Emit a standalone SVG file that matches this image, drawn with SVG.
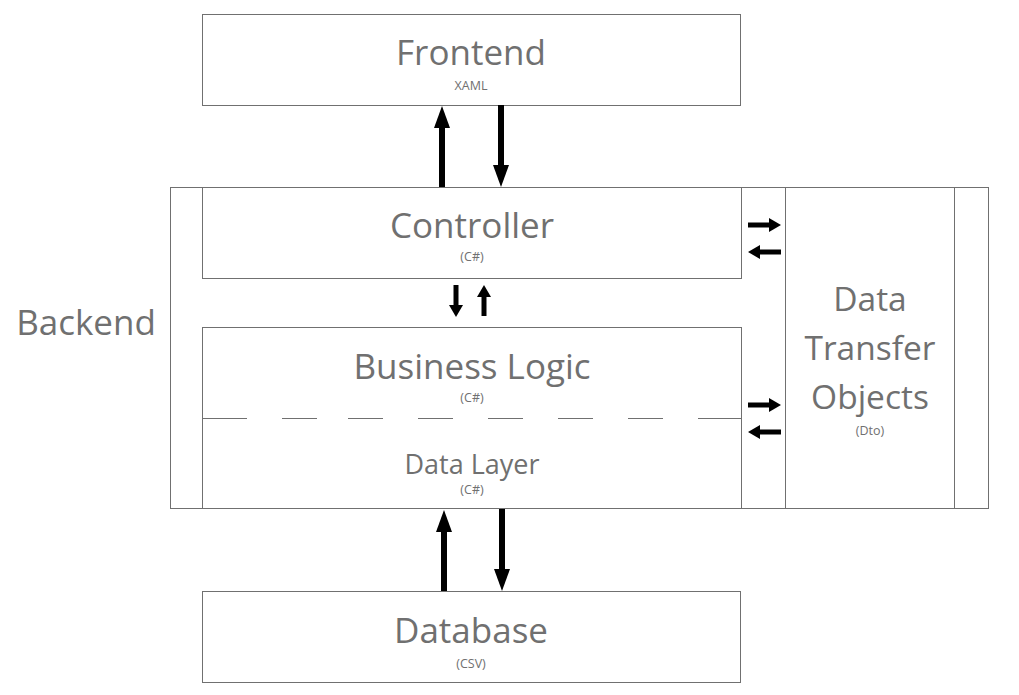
<svg xmlns="http://www.w3.org/2000/svg" width="1019" height="695" viewBox="0 0 1019 695">
  <defs>
    <style>
      .box { fill: #ffffff; stroke: #707070; stroke-width: 1; }
      .ln { fill: none; stroke: #707070; stroke-width: 1; }
      .t { font-family: "Open Sans", "Liberation Sans", sans-serif; fill: #707070; text-anchor: middle; }
      .big { font-size: 35px; }
      .dto { font-size: 33.5px; }
      .mid { font-size: 27px; }
      .sm { font-size: 12.5px; }
      .arrL { fill: none; stroke: #000000; stroke-width: 6; }
      .arrS { fill: none; stroke: #000000; stroke-width: 5; }
    </style>
    <marker id="headL" markerUnits="userSpaceOnUse" markerWidth="24" markerHeight="18" refX="0" refY="8" orient="auto" viewBox="0 0 24 16">
      <path d="M0 0 L22 8 L0 16 Z" fill="#000000"/>
    </marker>
    <marker id="headS" markerUnits="userSpaceOnUse" markerWidth="13" markerHeight="16" refX="0" refY="7" orient="auto" viewBox="0 0 13 14">
      <path d="M0 0 L12 7 L0 14 Z" fill="#000000"/>
    </marker>
  </defs>

  <rect width="1019" height="695" fill="#ffffff"/>

  <g id="backend">
    <rect class="box" x="170.5" y="187.5" width="818" height="321"/>
    <text class="t big" x="86" y="335">Backend</text>
  </g>

  <g id="frontend">
    <rect class="box" x="202.5" y="14.5" width="538" height="91"/>
    <text class="t big" x="471" y="65">Frontend</text>
    <text class="t sm" x="471" y="90">XAML</text>
  </g>

  <g id="controller">
    <rect class="box" x="202.5" y="187.5" width="539" height="91"/>
    <text class="t big" x="472" y="238">Controller</text>
    <text class="t sm" x="472" y="261">(C#)</text>
  </g>

  <g id="business-logic">
    <rect class="box" x="202.5" y="327.5" width="539" height="181"/>
    <text class="t big" x="472" y="379">Business Logic</text>
    <text class="t sm" x="472" y="402">(C#)</text>
    <path class="ln" d="M202 418.5 H247 M282 418.5 H317 M348 418.5 H383 M418 418.5 H453 M488 418.5 H523 M558 418.5 H593 M628 418.5 H663 M698 418.5 H741"/>
  </g>

  <g id="data-layer">
    <text class="t mid" x="472" y="474">Data Layer</text>
    <text class="t sm" x="472" y="494">(C#)</text>
  </g>

  <g id="dto">
    <rect class="box" x="785.5" y="187.5" width="169" height="321"/>
    <text class="t dto" x="870" y="311">Data</text>
    <text class="t dto" x="870" y="360">Transfer</text>
    <text class="t dto" x="870" y="409">Objects</text>
    <text class="t sm" x="870" y="435">(Dto)</text>
  </g>

  <g id="database">
    <rect class="box" x="202.5" y="591.5" width="538" height="91"/>
    <text class="t big" x="471" y="643">Database</text>
    <text class="t sm" x="471" y="668">(CSV)</text>
  </g>

  <g id="connectors">
    <line class="arrL" x1="442" y1="187" x2="442" y2="128" marker-end="url(#headL)"/>
    <line class="arrL" x1="501" y1="105" x2="501" y2="165" marker-end="url(#headL)"/>
    <line class="arrS" x1="456" y1="285" x2="456" y2="305" marker-end="url(#headS)"/>
    <line class="arrS" x1="484" y1="316" x2="484" y2="297" marker-end="url(#headS)"/>
    <line class="arrS" x1="748" y1="225" x2="769" y2="225" marker-end="url(#headS)"/>
    <line class="arrS" x1="781" y1="252" x2="760" y2="252" marker-end="url(#headS)"/>
    <line class="arrS" x1="748" y1="405" x2="769" y2="405" marker-end="url(#headS)"/>
    <line class="arrS" x1="781" y1="432" x2="760" y2="432" marker-end="url(#headS)"/>
    <line class="arrL" x1="444" y1="591" x2="444" y2="532" marker-end="url(#headL)"/>
    <line class="arrL" x1="502" y1="509" x2="502" y2="569" marker-end="url(#headL)"/>
  </g>
</svg>
